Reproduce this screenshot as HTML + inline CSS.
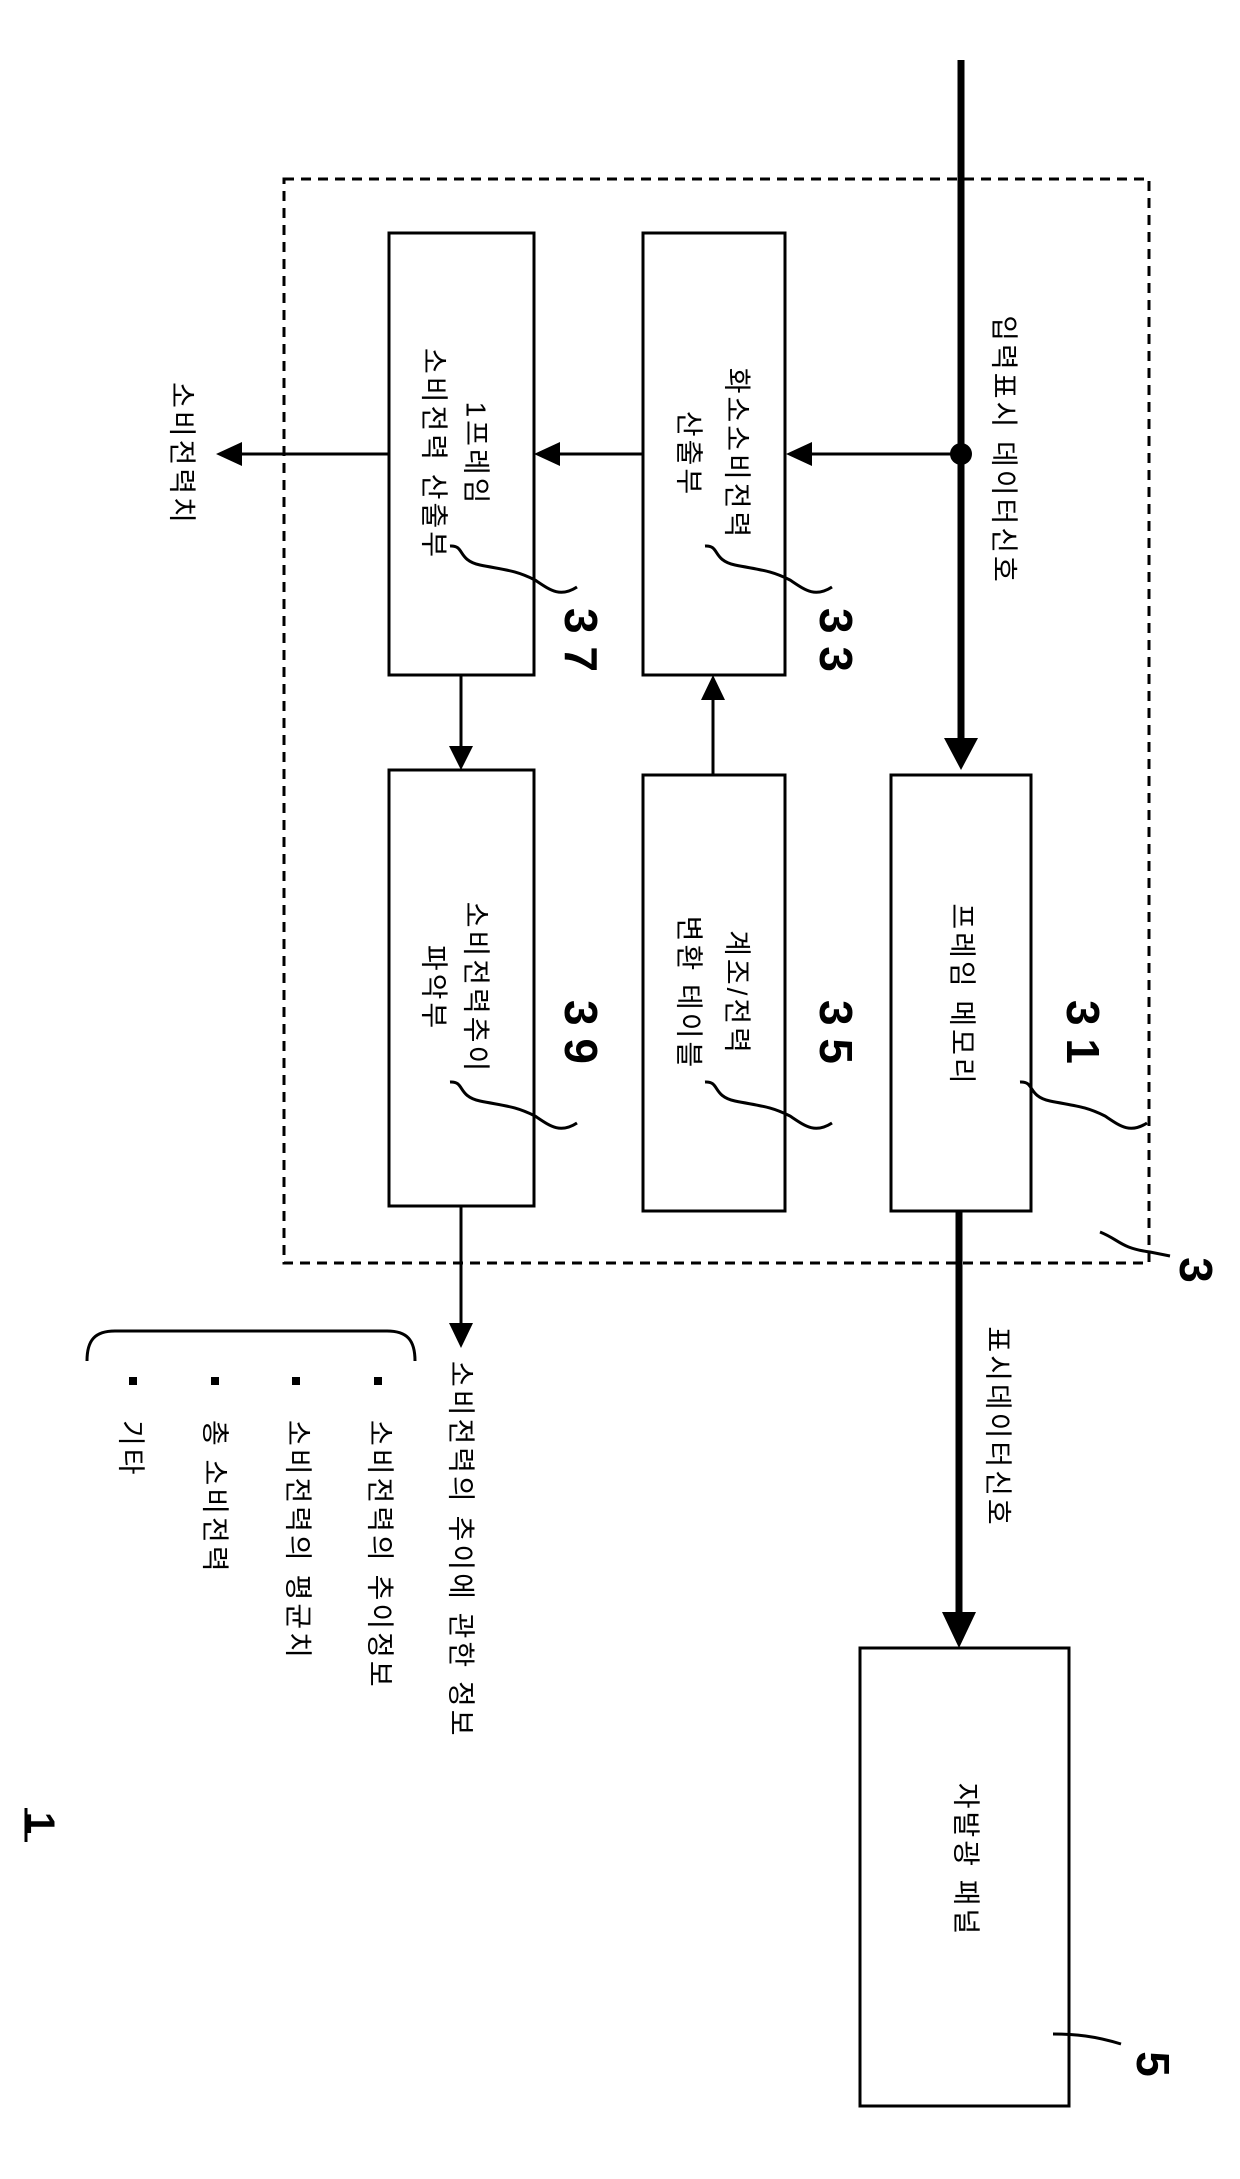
<!DOCTYPE html>
<html><head><meta charset="utf-8"><style>
html,body{margin:0;padding:0;background:#fff;}
svg{display:block;}
text{font-family:"Liberation Sans","Noto Sans CJK KR",sans-serif;fill:#000;}
.k{font-size:28px;letter-spacing:3px;}
.n{font-size:46px;font-weight:bold;}
</style></head><body>
<svg width="1240" height="2179" viewBox="0 0 1240 2179" xmlns="http://www.w3.org/2000/svg">
<defs>
<marker id="ab" markerWidth="10" markerHeight="10" refX="9" refY="5" orient="auto" markerUnits="userSpaceOnUse" viewBox="0 0 10 10"><path d="M0,0 L10,5 L0,10 z"/></marker>
</defs>
<!-- dashed box -->
<rect x="284" y="179" width="865" height="1084" fill="none" stroke="#000" stroke-width="3" stroke-dasharray="10,7"/>
<!-- boxes -->
<g fill="none" stroke="#000" stroke-width="3">
<rect x="643" y="233" width="142" height="442"/>
<rect x="389" y="233" width="145" height="442"/>
<rect x="891" y="775" width="140" height="436"/>
<rect x="643" y="775" width="142" height="436"/>
<rect x="389" y="770" width="145" height="436"/>
<rect x="860" y="1648" width="209" height="458"/>
</g>
<!-- main input line -->
<line x1="961" y1="60" x2="961" y2="740" stroke="#000" stroke-width="7"/>
<polygon points="944,738 978,738 961,770" fill="#000"/>
<circle cx="961" cy="454" r="11" fill="#000"/>
<!-- horizontal lines -->
<line x1="961" y1="454" x2="810" y2="454" stroke="#000" stroke-width="3"/>
<polygon points="812,442 812,466 786,454" fill="#000"/>
<line x1="643" y1="454" x2="558" y2="454" stroke="#000" stroke-width="3"/>
<polygon points="560,442 560,466 534,454" fill="#000"/>
<line x1="389" y1="454" x2="240" y2="454" stroke="#000" stroke-width="3"/>
<polygon points="242,442 242,466 216,454" fill="#000"/>
<!-- 35 -> 33 -->
<line x1="713" y1="775" x2="713" y2="698" stroke="#000" stroke-width="3"/>
<polygon points="701,700 725,700 713,675" fill="#000"/>
<!-- 37 -> 39 -->
<line x1="461" y1="675" x2="461" y2="748" stroke="#000" stroke-width="3"/>
<polygon points="449,746 473,746 461,770" fill="#000"/>
<!-- 31 -> 5 -->
<line x1="959" y1="1211" x2="959" y2="1615" stroke="#000" stroke-width="7"/>
<polygon points="942,1612 976,1612 959,1648" fill="#000"/>
<!-- 39 output -->
<line x1="461" y1="1206" x2="461" y2="1325" stroke="#000" stroke-width="3"/>
<polygon points="449,1323 473,1323 461,1348" fill="#000"/>
<!-- brace -->
<path d="M87,1361 C87,1340 95,1331 115,1331 L387,1331 C407,1331 415,1340 415,1361" fill="none" stroke="#000" stroke-width="3"/>
<g fill="#000"><rect x="374" y="1377" width="8" height="8"/><rect x="292" y="1377" width="8" height="8"/><rect x="211" y="1377" width="8" height="8"/><rect x="129" y="1377" width="8" height="8"/></g>
<!-- squiggles -->
<g fill="none" stroke="#000" stroke-width="3">
<path d="M705,546 C720,545 712,560 735,565 C760,570 770,570 790,580 C805,590 815,598 832,587"/>
<path d="M450,546 C465,545 457,560 480,565 C505,570 515,570 535,580 C550,590 560,598 577,587"/>
<path d="M705,1082 C720,1081 712,1096 735,1101 C760,1106 770,1106 790,1116 C805,1126 815,1134 832,1123"/>
<path d="M450,1082 C465,1081 457,1096 480,1101 C505,1106 515,1106 535,1116 C550,1126 560,1134 577,1123"/>
<path d="M1020,1082 C1035,1081 1027,1096 1050,1101 C1075,1106 1085,1106 1105,1116 C1120,1126 1130,1134 1147,1123"/>
<path d="M1100,1232 C1120,1240 1120,1248 1150,1252 L1170,1256"/>
<path d="M1053,2034 C1075,2034 1095,2036 1121,2044"/>
</g>
<!-- rotated texts -->
<g class="k" text-anchor="middle" dominant-baseline="central">
<text transform="translate(1004,450) rotate(90)">입력표시 데이터신호</text>
<text transform="translate(737,454) rotate(90)">화소소비전력</text>
<text transform="translate(689,454) rotate(90)">산출부</text>
<text transform="translate(476,454) rotate(90)">1프레임</text>
<text transform="translate(434,454) rotate(90)">소비전력 산출부</text>
<text transform="translate(182,454) rotate(90)">소비전력치</text>
<text transform="translate(962,995) rotate(90)">프레임 메모리</text>
<text transform="translate(737,993) rotate(90)">계조/전력</text>
<text transform="translate(689,993) rotate(90)">변환 테이블</text>
<text transform="translate(476,988) rotate(90)">소비전력추이</text>
<text transform="translate(434,988) rotate(90)">파악부</text>
<text transform="translate(998,1427) rotate(90)">표시데이터신호</text>
<text transform="translate(966,1860) rotate(90)">자발광 패널</text>
</g>
<g class="k" text-anchor="start" dominant-baseline="central">
<text transform="translate(461,1361) rotate(90)">소비전력의 추이에 관한 정보</text>
<text transform="translate(380,1420) rotate(90)">소비전력의 추이정보</text>
<text transform="translate(298,1420) rotate(90)">소비전력의 평균치</text>
<text transform="translate(215,1420) rotate(90)">총 소비전력</text>
<text transform="translate(131,1420) rotate(90)">기타</text>
</g>
<g class="n" text-anchor="middle" dominant-baseline="central">
<text transform="translate(836,640) rotate(90)">3 3</text>
<text transform="translate(581,640) rotate(90)">3 7</text>
<text transform="translate(836,1032) rotate(90)">3 5</text>
<text transform="translate(581,1032) rotate(90)">3 9</text>
<text transform="translate(1083,1032) rotate(90)">3 1</text>
<text transform="translate(1196,1270) rotate(90)">3</text>
<text transform="translate(1153,2064) rotate(90)">5</text>
<text transform="translate(40,1823) rotate(90)" style="font-size:40px">1</text>
</g>
<line x1="26" y1="1808" x2="26" y2="1842" stroke="#000" stroke-width="3"/>
</svg>
</body></html>
